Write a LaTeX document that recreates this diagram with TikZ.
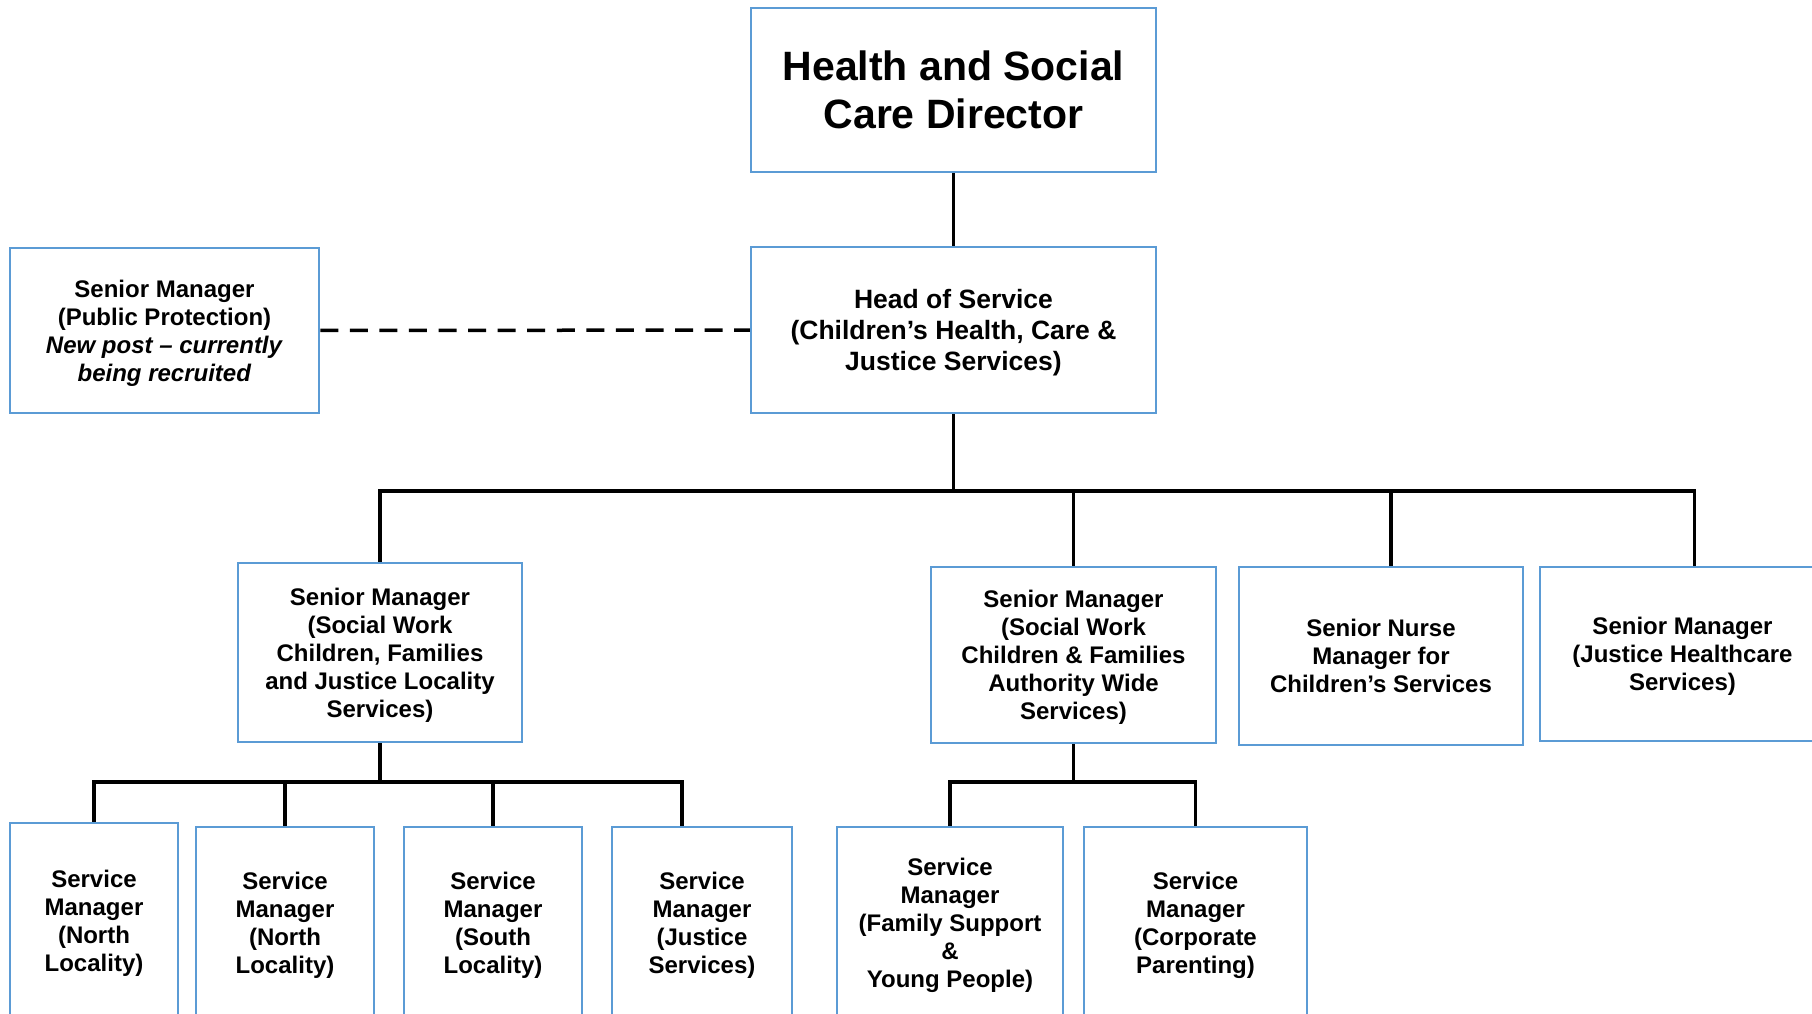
\documentclass[tikz,border=0pt]{standalone}
\usepackage{fontspec}
\setmainfont{Liberation Sans}
\definecolor{boxblue}{RGB}{91,155,213}
\tikzset{
  post/.style={draw=boxblue, line width=2.5pt, align=center, inner sep=0pt, text depth=0pt,
    font=\bfseries\fontsize{24}{28}\selectfont},
  link/.style={line width=3.5pt},
}

\begin{document}
\begin{tikzpicture}[x=1pt, y=-1pt]
            \useasboundingbox (0,0) rectangle (1812,1014);
            \clip (0,0) rectangle (1812,1014);
            \node[post, minimum width=405, minimum height=164, font=\bfseries\fontsize{41}{48}\selectfont] (dir) at (953.5,90) {Health and Social\\Care Director};
            \node[post, minimum width=405, minimum height=166, font=\bfseries\fontsize{26.5}{31}\selectfont] (hos) at (953.5,330) {Head of Service\\(Children’s Health, Care \&\\Justice Services)};
            \node[post, minimum width=309, minimum height=165] (pp) at (164.5,330.5) {Senior Manager\\(Public Protection)\\\textit{New post – currently}\\\textit{being recruited}};
            \node[post, minimum width=284, minimum height=179] (swl) at (380,652.5) {Senior Manager\\(Social Work\\Children, Families\\and Justice Locality\\Services)};
            \node[post, minimum width=285, minimum height=176] (swa) at (1073.5,655) {Senior Manager\\(Social Work\\Children \& Families\\Authority Wide\\Services)};
            \node[post, minimum width=284, minimum height=178] (snm) at (1381,656) {Senior Nurse\\Manager for\\Children’s Services};
            \node[post, minimum width=285, minimum height=174] (jh) at (1682.5,654) {Senior Manager\\(Justice Healthcare\\Services)};
            \node[post, minimum width=168, minimum height=195] (n1) at (94,920.5) {Service\\Manager\\(North\\Locality)};
            \node[post, minimum width=178, minimum height=191] (n2) at (285,922.5) {Service\\Manager\\(North\\Locality)};
            \node[post, minimum width=178, minimum height=191] (sl) at (493,922.5) {Service\\Manager\\(South\\Locality)};
            \node[post, minimum width=180, minimum height=191] (js) at (702,922.5) {Service\\Manager\\(Justice\\Services)};
            \node[post, minimum width=226, minimum height=191] (fs) at (950,922.5) {Service\\Manager\\(Family Support\\\&\\Young People)};
            \node[post, minimum width=223, minimum height=191] (cp) at (1195.5,922.5) {Service\\Manager\\(Corporate\\Parenting)};
            \coordinate (bus1) at (953.5,491);
            \coordinate (bus2) at (380,782);
            \coordinate (bus3) at (1073.5,782);
            \draw[link] (dir) -- (hos);
            \draw[link, dash pattern=on 18pt off 11.57pt] (pp) -- (hos);
            \draw[link] (hos) -- (bus1);
            \draw[link] (swl.north) |- ([xshift=12]jh.north |- bus1) -- ([xshift=12]jh.north);
            \draw[link] (swa.north) -- (swa.north |- bus1);
            \draw[link] ([xshift=10]snm.north) -- ([xshift=10]snm.north |- bus1);
            \draw[link] (swl) -- (bus2);
            \draw[link] (n1.north) |- ([xshift=-20]js.north |- bus2) -- ([xshift=-20]js.north);
            \draw[link] (n2.north) -- (n2.north |- bus2);
            \draw[link] (sl.north) -- (sl.north |- bus2);
            \draw[link] (swa) -- (bus3);
            \draw[link] (fs.north) |- (bus3) -| (cp.north);
        \end{tikzpicture}
\end{document}
